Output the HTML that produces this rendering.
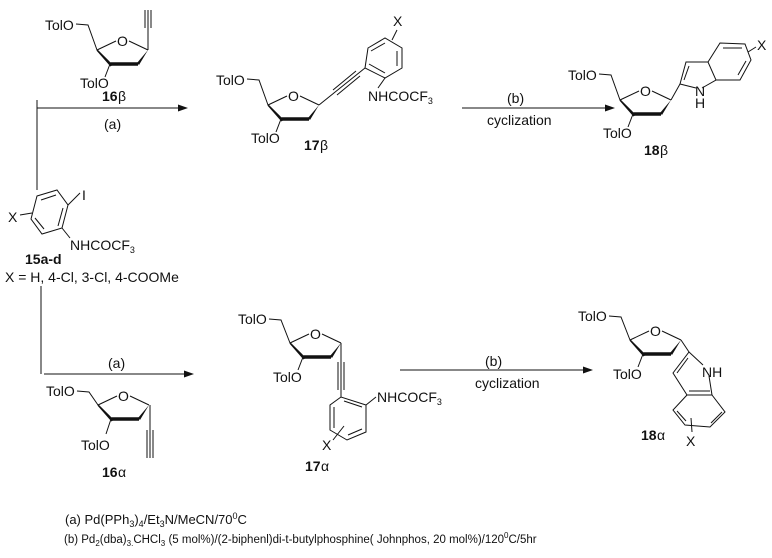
<!DOCTYPE html>
<html><head><meta charset="utf-8"><style>
html,body{margin:0;padding:0;background:#fff;}
svg{display:block}
text{font-family:"Liberation Sans",sans-serif;font-size:14px;fill:#111}
.b{font-weight:bold}
</style></head><body>
<svg width="772" height="558" viewBox="0 0 772 558" xmlns="http://www.w3.org/2000/svg">
<g stroke="#111" stroke-width="1" fill="none">
<line x1="37" y1="100" x2="37" y2="190"/>
<line x1="37" y1="108" x2="182" y2="108"/>
<line x1="41" y1="286" x2="41" y2="374"/>
<line x1="44" y1="374" x2="188" y2="374"/>
<line x1="462" y1="108" x2="608" y2="108"/>
<line x1="400" y1="370" x2="586" y2="370"/>
</g>
<g fill="#111">
<polygon points="188,108 178,104.5 178,111.5"/>
<polygon points="194,374 184,370.5 184,377.5"/>
<polygon points="615,108 605,104.5 605,111.5"/>
<polygon points="593,370 583,366.5 583,373.5"/>
</g>
<text x="104" y="129">(a)</text>
<text x="108" y="368">(a)</text>
<text x="507" y="103">(b)</text>
<text x="487" y="125">cyclization</text>
<text x="485" y="366">(b)</text>
<text x="475" y="388">cyclization</text>

<g transform="translate(97,50)">
<g stroke="#111" fill="none" stroke-width="1">
<polyline points="-21,-26 -9,-25 0,0"/>
<line x1="0" y1="0" x2="19" y2="-9"/><line x1="32" y1="-9" x2="51" y2="0"/>
<line x1="13" y1="14" x2="8" y2="27"/>
</g>
<polygon points="51,0 42,15 40,13" fill="#111"/>
<line x1="41" y1="14" x2="13" y2="14" stroke="#111" stroke-width="3.5"/>
<polygon points="0,0 14,16 12,12" fill="#111" stroke="#111" stroke-width="1.5"/>
<text x="20" y="-4">O</text>
<text x="-52" y="-20">TolO</text>
<text x="-17" y="38">TolO</text>
</g>
<g stroke="#111" fill="none"><line x1="148" y1="50" x2="148" y2="10"/><line x1="145" y1="28" x2="145" y2="10"/><line x1="151" y1="28" x2="151" y2="10"/></g>
<text class="b" x="102" y="101">16</text><text x="118" y="101">β</text>

<g transform="translate(268,105)">
<g stroke="#111" fill="none" stroke-width="1">
<polyline points="-21,-26 -9,-25 0,0"/>
<line x1="0" y1="0" x2="19" y2="-9"/><line x1="32" y1="-9" x2="51" y2="0"/>
<line x1="13" y1="14" x2="8" y2="27"/>
</g>
<polygon points="51,0 42,15 40,13" fill="#111"/>
<line x1="41" y1="14" x2="13" y2="14" stroke="#111" stroke-width="3.5"/>
<polygon points="0,0 14,16 12,12" fill="#111" stroke="#111" stroke-width="1.5"/>
<text x="20" y="-4">O</text>
<text x="-52" y="-20">TolO</text>
<text x="-17" y="38">TolO</text>
</g>
<g stroke="#111" fill="none">
<line x1="319" y1="105" x2="365" y2="68"/><line x1="333" y1="90" x2="356" y2="71"/><line x1="337" y1="95" x2="360" y2="76"/>
<polygon points="365,68 368,48 385,38 402,48 402,68 385,78"/>
<line x1="371" y1="51" x2="385" y2="43"/><line x1="397" y1="51" x2="397" y2="66"/><line x1="385" y1="73" x2="369" y2="64"/>
<line x1="385" y1="78" x2="378" y2="88"/>
<line x1="392" y1="40" x2="397" y2="30"/>
</g>
<text x="393" y="26">X</text>
<text x="368" y="101">NHCOCF<tspan font-size="9" dy="3">3</tspan></text>
<text class="b" x="304" y="150">17</text><text x="320" y="150">β</text>

<g transform="translate(620,100)">
<g stroke="#111" fill="none" stroke-width="1">
<polyline points="-21,-26 -9,-25 0,0"/>
<line x1="0" y1="0" x2="19" y2="-9"/><line x1="32" y1="-9" x2="51" y2="0"/>
<line x1="13" y1="14" x2="8" y2="27"/>
</g>
<polygon points="51,0 42,15 40,13" fill="#111"/>
<line x1="41" y1="14" x2="13" y2="14" stroke="#111" stroke-width="3.5"/>
<polygon points="0,0 14,16 12,12" fill="#111" stroke="#111" stroke-width="1.5"/>
<text x="20" y="-4">O</text>
<text x="-52" y="-20">TolO</text>
<text x="-17" y="38">TolO</text>
</g>
<g stroke="#111" fill="none">
<line x1="671" y1="100" x2="680" y2="84"/>
<polyline points="696,88 680,84 686,62 708,62 716,80 702,88"/>
<line x1="684" y1="80" x2="689" y2="66"/>
<polyline points="708,62 720,43 745,44 751,60 740,80 716,80"/>
<line x1="723" y1="48" x2="742" y2="48"/><line x1="746" y1="61" x2="738" y2="75"/>
<line x1="748" y1="52" x2="756" y2="47"/>
</g>
<text x="757" y="50">X</text>
<text x="695" y="96">N</text><text x="695" y="108">H</text>
<text class="b" x="644" y="155">18</text><text x="660" y="155">β</text>

<g stroke="#111" fill="none">
<polygon points="37,196 57,190 68,205 62,228 42,234 31,219"/>
<line x1="41" y1="200" x2="56" y2="195"/><line x1="63" y1="208" x2="58" y2="226"/><line x1="44" y1="229" x2="35" y2="218"/>
<line x1="68" y1="205" x2="80" y2="193"/>
<line x1="62" y1="228" x2="70" y2="238"/>
<line x1="20" y1="215" x2="32" y2="213"/>
</g>
<text x="82" y="200">I</text>
<text x="8" y="222">X</text>
<text x="70" y="250">NHCOCF<tspan font-size="9" dy="3">3</tspan></text>
<text class="b" x="25" y="264">15a-d</text>
<text x="5" y="282">X = H, 4-Cl, 3-Cl, 4-COOMe</text>

<g transform="translate(98,405)">
<g stroke="#111" fill="none" stroke-width="1">
<polyline points="-21,-14 -9,-13 0,0"/>
<line x1="0" y1="0" x2="19" y2="-9"/><line x1="32" y1="-9" x2="51" y2="0"/>
<line x1="13" y1="14" x2="8" y2="29"/>
</g>
<polygon points="51,0 42,15 40,13" fill="#111"/>
<line x1="41" y1="14" x2="13" y2="14" stroke="#111" stroke-width="3.5"/>
<polygon points="0,0 14,16 12,12" fill="#111" stroke="#111" stroke-width="1.5"/>
<text x="20" y="-4">O</text>
<text x="-52" y="-9">TolO</text>
<text x="-17" y="45">TolO</text>
</g>
<g stroke="#111" fill="none"><line x1="150" y1="405" x2="150" y2="458"/><line x1="147" y1="430" x2="147" y2="458"/><line x1="153" y1="430" x2="153" y2="458"/></g>
<text class="b" x="102" y="477">16</text><text x="118" y="477">α</text>

<g transform="translate(290,343)">
<g stroke="#111" fill="none" stroke-width="1">
<polyline points="-21,-24 -9,-23 0,0"/>
<line x1="0" y1="0" x2="19" y2="-9"/><line x1="32" y1="-9" x2="51" y2="0"/>
<line x1="13" y1="14" x2="8" y2="27"/>
</g>
<polygon points="51,0 42,15 40,13" fill="#111"/>
<line x1="41" y1="14" x2="13" y2="14" stroke="#111" stroke-width="3.5"/>
<polygon points="0,0 14,16 12,12" fill="#111" stroke="#111" stroke-width="1.5"/>
<text x="20" y="-4">O</text>
<text x="-52" y="-19">TolO</text>
<text x="-17" y="39">TolO</text>
</g>
<g stroke="#111" fill="none">
<line x1="341" y1="343" x2="341" y2="397"/><line x1="338" y1="362" x2="338" y2="390"/><line x1="344" y1="362" x2="344" y2="390"/>
<polygon points="341,397 330,405 330,430 347,440 366,432 366,405"/>
<line x1="334" y1="407" x2="334" y2="428"/><line x1="348" y1="435" x2="362" y2="429"/><line x1="362" y1="407" x2="344" y2="401"/>
<line x1="366" y1="405" x2="376" y2="397"/>
<line x1="333" y1="440" x2="344" y2="426"/>
</g>
<text x="377" y="402">NHCOCF<tspan font-size="9" dy="3">3</tspan></text>
<text x="322" y="450">X</text>
<text class="b" x="305" y="471">17</text><text x="321" y="471">α</text>

<g transform="translate(630,340)">
<g stroke="#111" fill="none" stroke-width="1">
<polyline points="-21,-24 -9,-23 0,0"/>
<line x1="0" y1="0" x2="19" y2="-9"/><line x1="32" y1="-9" x2="51" y2="0"/>
<line x1="13" y1="14" x2="8" y2="27"/>
</g>
<polygon points="51,0 42,15 40,13" fill="#111"/>
<line x1="41" y1="14" x2="13" y2="14" stroke="#111" stroke-width="3.5"/>
<polygon points="0,0 14,16 12,12" fill="#111" stroke="#111" stroke-width="1.5"/>
<text x="20" y="-4">O</text>
<text x="-52" y="-19">TolO</text>
<text x="-17" y="39">TolO</text>
</g>
<g stroke="#111" fill="none">
<line x1="681" y1="340" x2="689" y2="352"/>
<polyline points="703,365 689,352 673,373 687,395 712,395 709,376"/>
<line x1="688" y1="358" x2="677" y2="373"/>
<line x1="689" y1="391" x2="710" y2="391"/>
<polyline points="687,395 673,410 685,425 710,427 725,412 712,395"/>
<line x1="677" y1="411" x2="686" y2="421"/><line x1="711" y1="423" x2="722" y2="412"/>
<line x1="691" y1="418" x2="692" y2="432"/>
</g>
<text x="702" y="377">NH</text>
<text x="686" y="446">X</text>
<text class="b" x="641" y="440">18</text><text x="657" y="440">α</text>

<text x="65" y="524" style="font-size:13px">(a) Pd(PPh<tspan font-size="9" dy="3">3</tspan><tspan dy="-3">)</tspan><tspan font-size="9" dy="3">4</tspan><tspan dy="-3">/Et</tspan><tspan font-size="9" dy="3">3</tspan><tspan dy="-3">N/MeCN/70</tspan><tspan font-size="9" dy="-5">0</tspan><tspan dy="5">C</tspan></text>
<text x="64" y="543" style="font-size:11.5px">(b) Pd<tspan font-size="8" dy="3">2</tspan><tspan dy="-3">(dba)</tspan><tspan font-size="8" dy="3">3.</tspan><tspan dy="-3">CHCl</tspan><tspan font-size="8" dy="3">3</tspan><tspan dy="-3"> (5 mol%)/(2-biphenl)di-t-butylphosphine( Johnphos, 20 mol%)/120</tspan><tspan font-size="8" dy="-5">0</tspan><tspan dy="5">C/5hr</tspan></text>
</svg>
</body></html>
